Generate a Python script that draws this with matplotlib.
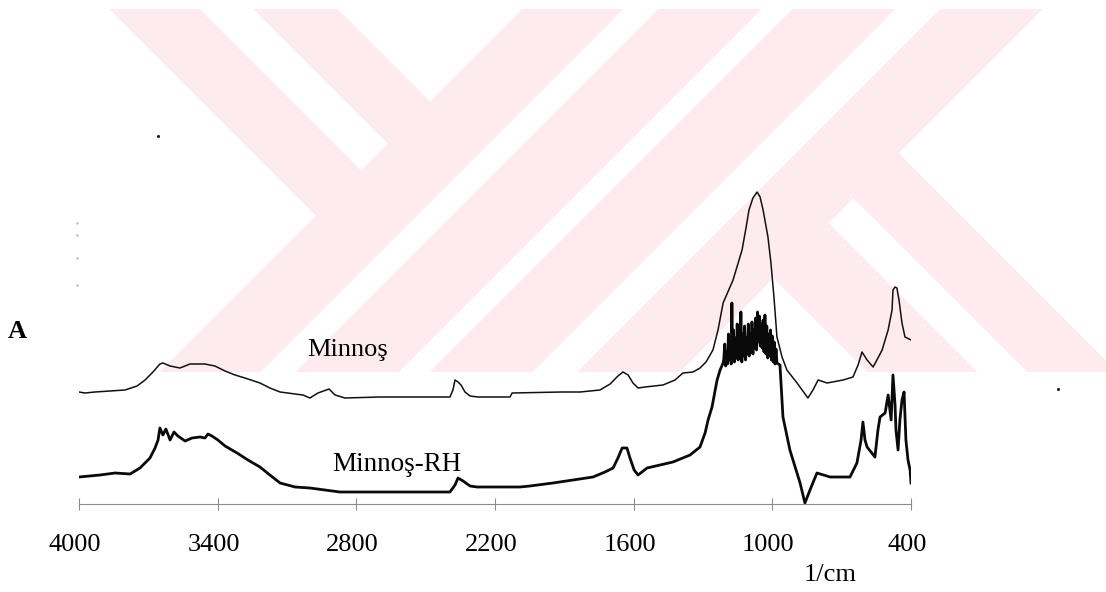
import numpy as np
import matplotlib
matplotlib.use("Agg")
import matplotlib.pyplot as plt
from matplotlib.transforms import ScaledTranslation

# wavenumbers (1/cm) and relative absorbance
wn_minnos = [4000, 3974, 3931, 3866, 3801, 3749, 3714, 3680, 3650, 3637,
             3606, 3563, 3520, 3455, 3412, 3368, 3325, 3282, 3217, 3174,
             3130, 3065, 3031, 3001, 2966, 2918, 2892, 2849, 2698, 2395,
             2382, 2373, 2360, 2347, 2330, 2308, 2274, 2135, 2126, 1910,
             1832, 1746, 1702, 1668, 1646, 1624, 1603, 1581, 1551, 1473,
             1421, 1387, 1343, 1313, 1287, 1257, 1235, 1213, 1170, 1131,
             1114, 1101, 1084, 1066, 1053, 1040, 1019, 1006, 993, 980,
             958, 937, 893, 846, 824, 802, 763, 694, 651, 629,
             612, 590, 564, 543, 525, 499, 482, 478, 469, 461,
             452, 439, 426, 400]
abs_minnos = [1.12, 1.11, 1.12, 1.13, 1.14, 1.18, 1.24, 1.32, 1.40, 1.41,
              1.38, 1.36, 1.40, 1.40, 1.38, 1.33, 1.29, 1.26, 1.21, 1.16,
              1.12, 1.10, 1.09, 1.06, 1.11, 1.15, 1.09, 1.06, 1.07, 1.07,
              1.14, 1.24, 1.22, 1.19, 1.12, 1.08, 1.07, 1.07, 1.11, 1.12,
              1.12, 1.14, 1.20, 1.28, 1.32, 1.29, 1.21, 1.16, 1.17, 1.19,
              1.24, 1.31, 1.32, 1.36, 1.42, 1.54, 1.74, 2.01, 2.24, 2.54,
              2.76, 2.94, 3.06, 3.12, 3.07, 2.94, 2.67, 2.41, 2.07, 1.67,
              1.47, 1.34, 1.21, 1.06, 1.14, 1.24, 1.21, 1.24, 1.27, 1.39,
              1.52, 1.44, 1.37, 1.46, 1.54, 1.74, 1.94, 2.14, 2.17, 2.16,
              2.04, 1.81, 1.67, 1.64]

# Minnoş-RH: high-wavenumber part, noisy 1210-980 band, low-wavenumber part
wn_rh_high = [4000, 3952, 3909, 3844, 3779, 3736, 3693, 3671, 3658, 3650,
              3637, 3624, 3606, 3589, 3572, 3541, 3511, 3476, 3455, 3442,
              3425, 3399, 3368, 3316, 3269, 3217, 3174, 3130, 3065, 3001,
              2936, 2871, 2698, 2395, 2373, 2360, 2338, 2308, 2278, 2092,
              2049, 1949, 1862, 1776, 1724, 1689, 1668, 1650, 1629, 1616,
              1598, 1581, 1542, 1486, 1430, 1356, 1313, 1291, 1278, 1261,
              1239, 1226, 1213]
abs_rh_high = [0.27, 0.28, 0.29, 0.31, 0.30, 0.36, 0.46, 0.56, 0.64, 0.76,
               0.69, 0.75, 0.64, 0.72, 0.68, 0.63, 0.66, 0.67, 0.66, 0.70,
               0.68, 0.64, 0.58, 0.51, 0.44, 0.37, 0.29, 0.21, 0.17, 0.16,
               0.14, 0.12, 0.12, 0.12, 0.19, 0.26, 0.23, 0.18, 0.17, 0.17,
               0.18, 0.21, 0.24, 0.27, 0.32, 0.36, 0.46, 0.56, 0.56, 0.46,
               0.34, 0.29, 0.36, 0.39, 0.42, 0.49, 0.57, 0.71, 0.84, 0.97,
               1.24, 1.34, 1.41]

wn_rh_band = [1210, 1206, 1202, 1198, 1194, 1190, 1186, 1182, 1178, 1175,
              1172, 1168, 1164, 1160, 1156, 1152, 1148, 1144, 1140, 1136,
              1132, 1128, 1124, 1120, 1116, 1112, 1108, 1104, 1100, 1096,
              1092, 1088, 1084, 1080, 1076, 1072, 1068, 1064, 1060, 1056,
              1052, 1048, 1044, 1040, 1036, 1032, 1028, 1024, 1020, 1016,
              1012, 1008, 1004, 1000, 996, 992, 988, 984, 980]
abs_rh_band = [1.45, 1.60, 1.38, 1.52, 1.40, 1.70, 1.44, 1.62, 1.40, 2.01,
               1.45, 1.74, 1.42, 1.66, 1.46, 1.80, 1.44, 1.62, 1.50, 1.92,
               1.42, 1.70, 1.48, 1.78, 1.44, 1.66, 1.50, 1.80, 1.48, 1.70,
               1.52, 1.82, 1.50, 1.74, 1.56, 1.86, 1.54, 1.92, 1.62, 1.88,
               1.58, 1.80, 1.56, 1.84, 1.52, 1.89, 1.50, 1.78, 1.46, 1.70,
               1.48, 1.74, 1.44, 1.68, 1.42, 1.62, 1.40, 1.55, 1.41]

wn_rh_low = [967, 954, 924, 880, 859, 837, 807, 750, 664, 634,
             616, 608, 599, 590, 573, 556, 543, 534, 512, 499,
             486, 478, 469, 465, 456, 448, 439, 430, 422, 413,
             404, 400]
abs_rh_low = [1.39, 0.87, 0.54, 0.21, 0.01, 0.14, 0.31, 0.27, 0.27, 0.41,
              0.64, 0.82, 0.64, 0.57, 0.52, 0.47, 0.74, 0.87, 0.91, 1.09,
              0.84, 1.29, 0.99, 0.74, 0.54, 0.84, 1.04, 1.12, 0.64, 0.44,
              0.34, 0.21]

wn_rh = wn_rh_high + wn_rh_band + wn_rh_low
abs_rh = abs_rh_high + abs_rh_band + abs_rh_low

tick_values = [4000, 3400, 2800, 2200, 1600, 1000, 400]

plt.rcParams["font.family"] = ["Liberation Serif", "DejaVu Serif"]

W, H = 1106, 592
fig = plt.figure(figsize=(W / 100, H / 100), dpi=100)

# faint pink watermark behind the scan (strips at +/-45 degrees)
yy, xx = np.mgrid[0:H, 0:W] + 0.5
s = xx + yy
d = xx - yy


def band(v, lo, hi):
    return (v >= lo) & (v < hi)


left = s < 533
right = s >= 1053
mark = ((band(d, 100, 190) & left) | (band(d, 244, 328) & left)
        | band(s, 533, 634) | band(s, 669, 772) | band(s, 803, 906)
        | band(s, 951, 1053)
        | (band(d, 495, 605) & right) | (band(d, 655, 745) & right))
mark &= (yy >= 10) & (yy < 373)
img = np.ones((H, W, 3))
img[mark] = np.array([253, 235, 239]) / 255.0

bg = fig.add_axes([0, 0, 1, 1], zorder=0)
bg.imshow(img, aspect="auto", interpolation="nearest")
# specks left over from the scan
bg.plot([158, 1058], [136, 389], ".", color="#222222", ms=2.5)
bg.plot([77, 77, 77, 77], [223, 235, 258, 285], ".", color="#bbbbbb", ms=1.5)
bg.set_xlim(0, W)
bg.set_ylim(H, 0)
bg.axis("off")

# spectrum axes
ax = fig.add_axes([79 / W, 1 - 504 / H, 832 / W, 404 / H], zorder=1)
ax.patch.set_alpha(0)
ax.plot(wn_minnos, abs_minnos, color="#111111", lw=1.1)
ax.plot(wn_rh, abs_rh, color="#0a0a0a", lw=2.0)

ax.set_xlim(4000, 400)
ax.set_ylim(0, 4.04)
for side in ["left", "right", "top"]:
    ax.spines[side].set_visible(False)
ax.spines["bottom"].set_color("#8c8c8c")
ax.spines["bottom"].set_linewidth(0.8)
ax.set_yticks([])
ax.set_xticks(tick_values)
ax.set_xticklabels([str(t) for t in tick_values])
ax.tick_params(axis="x", direction="inout", length=9, width=0.8,
               color="#8c8c8c", pad=17, labelsize=19)
shift = ScaledTranslation(-4 / 100, 0, fig.dpi_scale_trans)
for lab in ax.get_xticklabels():
    lab.set_transform(lab.get_transform() + shift)

ax.set_xlabel("1/cm", fontsize=19)
ax.xaxis.set_label_coords(0.903, -0.176)
ax.xaxis.label.set_va("center")

ax.text(3013, 1.48, "Minnoş", fontsize=19, va="baseline", ha="left")
ax.text(2905, 0.33, "Minnoş-RH", fontsize=19.5, va="baseline", ha="left")

fig.text(17 / W, 1 - 331 / H, "A", fontsize=19, fontweight="bold",
         ha="center", va="center")

fig.savefig("out.png", dpi=100)
